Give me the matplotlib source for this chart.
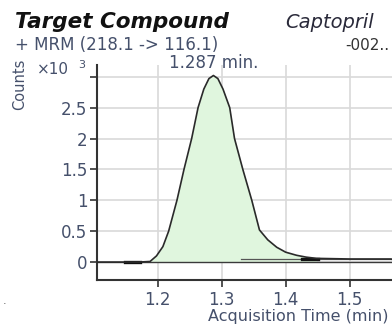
import matplotlib
matplotlib.use("Agg")
import matplotlib.pyplot as plt

# Chromatogram trace: acquisition time (min) vs counts (x10^3)
time_min = [1.105, 1.15, 1.17, 1.188, 1.198, 1.208, 1.217, 1.230, 1.241, 1.253,
            1.263, 1.272, 1.280, 1.287, 1.294, 1.302, 1.3125, 1.320, 1.333, 1.347,
            1.359, 1.372, 1.386, 1.400, 1.417, 1.432, 1.448, 1.50, 1.565, 1.57, 1.61]
counts_k = [0.0, 0.0, 0.0, 0.01, 0.1, 0.25, 0.5, 1.0, 1.5, 2.0,
            2.5, 2.8, 2.97, 3.02, 2.97, 2.8, 2.5, 2.0, 1.5, 1.0,
            0.52, 0.36, 0.24, 0.16, 0.11, 0.08, 0.06, 0.05, 0.05, 0.03, 0.03]

peak_start, peak_end = 1.188, 1.448
peak_rt = 1.287
baseline_level = 0.0
tail_level = 0.05

x_ticks = [1.2, 1.3, 1.4, 1.5]
x_tick_labels = ["1.2", "1.3", "1.4", "1.5"]
y_ticks = [0, 0.5, 1, 1.5, 2, 2.5, 3]
y_tick_labels = ["0", "0.5", "1", "1.5", "2", "2.5", ""]

title_left = "Target Compound"
title_right = "Captopril"
transition = "+ MRM (218.1 -> 116.1)"
file_tag = "-002.."

label_color = "#45506b"
line_color = "#2a2a2a"
fill_color = "#e0f6de"
grid_color = "#d9d9d9"

fig = plt.figure(figsize=(3.92, 3.24), dpi=100)
ax = fig.add_axes([97 / 392, 1 - 280 / 324, 323 / 392, 215 / 324])

ax.set_xlim(1.105, 1.61)
ax.set_ylim(-0.29, 3.19)

# shaded integrated area
in_peak = [i for i, t in enumerate(time_min) if peak_start <= t <= peak_end]
ax.fill_between([time_min[i] for i in in_peak], [counts_k[i] for i in in_peak],
                baseline_level, color=fill_color, lw=0, zorder=1)

# baselines and integration markers
ax.plot([1.105, 1.61], [baseline_level, baseline_level], color="#3a3a3a", lw=1.0, zorder=2)
ax.plot([1.33, 1.565], [tail_level, tail_level], color="#555555", lw=0.9, zorder=2)
ax.plot([1.148, 1.172], [baseline_level, baseline_level], color="#111111", lw=2.4, zorder=3)
ax.plot([1.425, 1.45], [tail_level, tail_level], color="#111111", lw=2.4, zorder=3)

ax.plot(time_min, counts_k, color=line_color, lw=1.2, zorder=4)

ax.set_xticks(x_ticks)
ax.set_xticklabels(x_tick_labels)
ax.set_yticks(y_ticks)
ax.set_yticklabels(y_tick_labels)
ax.tick_params(axis="both", direction="out", length=5, width=1.2, colors="#333333",
               labelcolor=label_color, labelsize=12)
ax.tick_params(axis="y", pad=2)
ax.tick_params(axis="x", pad=3)
ax.grid(True, color=grid_color, lw=1.2, zorder=0)
ax.set_axisbelow(True)

for side in ("top", "right"):
    ax.spines[side].set_visible(False)
for side in ("left", "bottom"):
    ax.spines[side].set_color("#333333")
    ax.spines[side].set_linewidth(1.5)

ax.text(peak_rt, 3.08, f"{peak_rt:.3f} min.", ha="center", va="bottom",
        color=label_color, fontsize=12)

fig.text(15 / 392, 1 - 22 / 324, title_left, ha="left", va="center",
         fontsize=15.5, fontweight="bold", fontstyle="italic", color="#111111")
fig.text(285 / 392, 1 - 22 / 324, title_right, ha="left", va="center",
         fontsize=14, fontstyle="italic", color="#2a2a3a")
fig.text(15 / 392, 1 - 45 / 324, transition, ha="left", va="center",
         fontsize=12, color=label_color)
fig.text(345 / 392, 1 - 45 / 324, file_tag, ha="left", va="center",
         fontsize=11, color="#333333")
fig.text(20 / 392, 1 - 84 / 324, "Counts", ha="center", va="center",
         rotation=90, fontsize=10.5, color=label_color)
fig.text(37 / 392, 1 - 70 / 324, "\u00d710", ha="left", va="center",
         fontsize=11, color=label_color)
fig.text(78 / 392, 1 - 65 / 324, "3", ha="left", va="center",
         fontsize=8, color=label_color)
fig.text(388 / 392, 1 - 317 / 324, "Acquisition Time (min)", ha="right", va="center",
         fontsize=11.5, color=label_color)
fig.text(5 / 392, 1 - 301 / 324, ".", ha="center", va="center",
         fontsize=8, color="#555555")

fig.savefig("out.png", dpi=100)
